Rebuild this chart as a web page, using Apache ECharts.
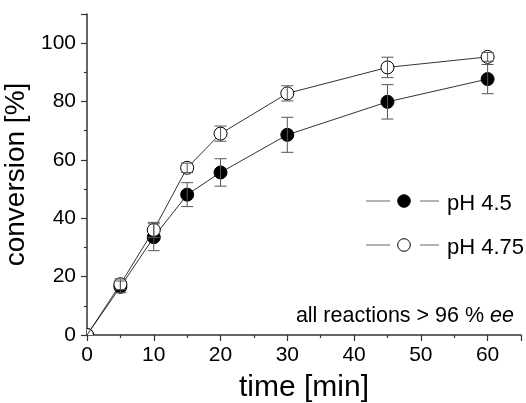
<!DOCTYPE html>
<html><head><meta charset="utf-8">
<script src="https://cdn.jsdelivr.net/npm/echarts@6/dist/echarts.min.js"></script>
<style>html,body{margin:0;padding:0;background:#fff}#c{width:526px;height:403px}</style>
</head><body><div id="c"></div>
<script>
var times = [0, 5, 10, 15, 20, 30, 45, 60];
var ph45 = [0, 16.5, 33.5, 48.1, 55.7, 68.6, 79.9, 87.7];
var ph45err = [0, 2.0, 4.6, 4.1, 4.7, 6.0, 5.9, 5.0];
var ph475 = [0, 17.4, 36.0, 57.3, 69.0, 82.8, 91.7, 95.3];
var ph475err = [0, 1.8, 2.6, 1.6, 2.6, 2.6, 3.5, 1.5];
var xTicks = [0, 10, 20, 30, 40, 50, 60];
var yTicks = [0, 20, 40, 60, 80, 100];
var seriesNames = ['pH 4.5', 'pH 4.75'];

function pts(vals) {
  return times.map(function (t, i) {
    var d = { value: [t, vals[i]] };
    if (t === 0) d.symbol = 'none';
    return d;
  });
}
function errData(vals, errs) {
  var out = [];
  times.forEach(function (t, i) { if (errs[i] > 0) out.push([t, vals[i] - errs[i], vals[i] + errs[i]]); });
  return out;
}
function errRender(params, api) {
  var x = api.value(0), lo = api.coord([x, api.value(1)]), hi = api.coord([x, api.value(2)]);
  var w = 6, st = { stroke: '#555', lineWidth: 1 };
  return { type: 'group', children: [
    { type: 'line', shape: { x1: lo[0], y1: lo[1], x2: hi[0], y2: hi[1] }, style: st },
    { type: 'line', shape: { x1: lo[0] - w, y1: lo[1], x2: lo[0] + w, y2: lo[1] }, style: st },
    { type: 'line', shape: { x1: hi[0] - w, y1: hi[1], x2: hi[0] + w, y2: hi[1] }, style: st }
  ]};
}
function originRender(fill) {
  return function (params, api) {
    var p = api.coord([api.value(0), api.value(1)]);
    return { type: 'circle', shape: { cx: p[0], cy: p[1], r: 6.5 }, style: { fill: fill, stroke: '#000', lineWidth: 1 } };
  };
}
function legendRow(y, fill, label) {
  var ls = { stroke: '#666', lineWidth: 1 };
  return [
    { type: 'line', shape: { x1: 366, y1: y, x2: 390, y2: y }, style: ls },
    { type: 'line', shape: { x1: 420, y1: y, x2: 439, y2: y }, style: ls },
    { type: 'circle', shape: { cx: 404, cy: y, r: 6.3 }, style: { fill: fill, stroke: '#000', lineWidth: 1 } },
    { type: 'text', x: 447, y: y + 3, style: { text: label, fontSize: 22, fontFamily: font, fill: '#000', verticalAlign: 'middle', align: 'left' } }
  ];
}
var font = 'Liberation Sans, Arial, sans-serif';
var chart = echarts.init(document.getElementById('c'), null, { renderer: 'canvas' });
chart.setOption({
  animation: false,
  textStyle: { fontFamily: font },
  grid: { left: 87, right: 5, top: 14, bottom: 68, containLabel: false, outerBoundsMode: 'none' },
  xAxis: {
    type: 'value', min: 0, max: 65, interval: 10,
    name: 'time [min]', nameLocation: 'middle', nameGap: 38,
    nameTextStyle: { fontSize: 30, color: '#000', fontFamily: font },
    axisLine: { lineStyle: { color: '#333', width: 1.5 } },
    axisTick: { show: true, length: 6, lineStyle: { color: '#333', width: 1.2 } },
    minorTick: { show: true, splitNumber: 2, length: 3, lineStyle: { color: '#333', width: 1.2 } },
    splitLine: { show: false },
    axisLabel: { fontSize: 21, color: '#000', margin: 10, fontFamily: font,
      formatter: function (v) { return xTicks.indexOf(v) >= 0 ? String(v) : ''; } }
  },
  yAxis: {
    type: 'value', min: 0, max: 110, interval: 20,
    name: 'conversion [%]', nameLocation: 'middle', nameGap: 50,
    nameTextStyle: { fontSize: 28, color: '#000', fontFamily: font },
    axisLine: { show: true, lineStyle: { color: '#333', width: 1.5 } },
    axisTick: { show: true, length: 6, lineStyle: { color: '#333', width: 1.2 } },
    minorTick: { show: true, splitNumber: 2, length: 3, lineStyle: { color: '#333', width: 1.2 } },
    splitLine: { show: false },
    axisLabel: { fontSize: 21, color: '#000', margin: 11, fontFamily: font,
      formatter: function (v) { return yTicks.indexOf(v) >= 0 ? String(v) : ''; } }
  },
  graphic: [{
    type: 'text', right: 12, top: 305,
    style: { rich: { n: { fontSize: 21.5, fontFamily: font, fill: '#000' }, i: { fontSize: 21.5, fontFamily: font, fontStyle: 'italic', fill: '#000' } },
      text: '{n|all reactions > 96 % }{i|ee}' }
  }].concat(legendRow(201, '#000', seriesNames[0])).concat(legendRow(245, '#fff', seriesNames[1])),
  series: [
    { name: seriesNames[0], type: 'line', data: pts(ph45), symbol: 'circle', symbolSize: 13,
      lineStyle: { color: '#333', width: 1 }, itemStyle: { color: '#000', borderColor: '#000', borderWidth: 1 }, z: 2 },
    { type: 'custom', renderItem: errRender, data: errData(ph45, ph45err), clip: true, z: 4, silent: true },
    { type: 'custom', renderItem: originRender('#000'), data: [[0, ph45[0]]], clip: true, z: 2, silent: true },
    { name: seriesNames[1], type: 'line', data: pts(ph475), symbol: 'circle', symbolSize: 13,
      lineStyle: { color: '#333', width: 1 }, itemStyle: { color: '#fff', borderColor: '#000', borderWidth: 1 }, z: 3 },
    { type: 'custom', renderItem: errRender, data: errData(ph475, ph475err), clip: true, z: 4, silent: true },
    { type: 'custom', renderItem: originRender('#fff'), data: [[0, ph475[0]]], clip: true, z: 3, silent: true }
  ]
});
</script></body></html>
